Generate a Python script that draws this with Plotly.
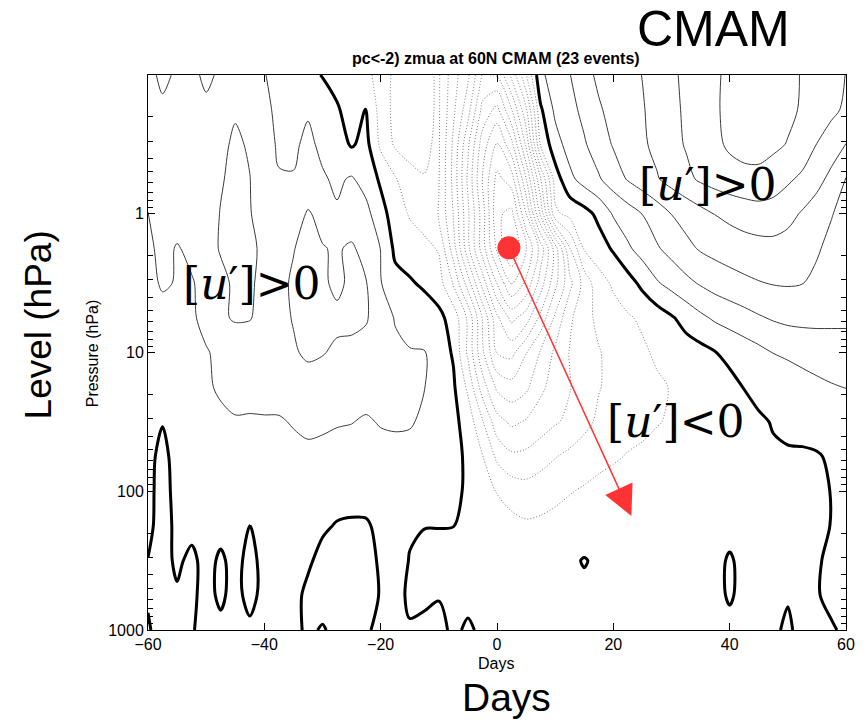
import math
import plotly.graph_objects as go

# ---------------- data ----------------
days = [-60, -57.5, -55, -52.5, -50, -47.5, -45, -42.5, -40, -37.5, -35, -32.5, -30, -27.5,
        -25, -22.5, -20, -17.5, -15, -12.5, -10, -7.5, -5, -2.5, 0, 2.5, 5, 7.5, 10, 12.5,
        15, 17.5, 20, 22.5, 25, 27.5, 30, 32.5, 35, 37.5, 40, 42.5, 45, 47.5, 50, 52.5,
        55, 57.5, 60]

pressure_hpa = [1000, 562.3, 316.2, 177.8, 100, 56.23, 31.62, 17.78, 10, 5.623, 3.162,
                1.778, 1, 0.5623, 0.3162, 0.1778, 0.1]

# zonal-mean zonal wind anomaly (m/s) at each pressure level, one value per day above
u_1000 = [0.05, -0.2, -0.15, -0.05, 0.2, 0.2, 0.25, 0.2, 0.25, 0.25, 0.15, -0.1, 0.05, -0.15, -0.1,
          -0.05, 0.1, 0.15, 0.05, 0.12, 0.15, -0.1,
          0.08, -0.1, -0.12, -0.15, -0.15, -0.15, -0.15, -0.12, -0.12, -0.12, -0.1, -0.1, -0.1,
          -0.1, -0.1, -0.1, -0.1, -0.1, -0.1, -0.1, -0.1, -0.1, 0.1, -0.2, -0.1, -0.03, 0.05]
u_562 = [-0.05, -0.2, -0.1, -0.15, 0.25, -0.15, 0.3, -0.3, 0.3, 0.3, 0.2, -0.15, -0.25, -0.35, -0.35,
         -0.3, 0.05, 0.2, -0.1, -0.1, -0.03, -0.15,
         -0.15, -0.2, -0.25, -0.28, -0.3, -0.3, -0.28, -0.22, -0.2, -0.2, -0.18, -0.16, -0.14,
         -0.13, -0.12, -0.11, -0.1, -0.1, 0.04, -0.1, -0.08, -0.08, -0.05, -0.08, -0.02, 0.07, 0.05]
u_316 = [-0.02, -0.3, 0.15, -0.2, 0.3, -0.15, 0.3, -0.3, 0.3, 0.3, 0.25, 0.1, -0.2, -0.3, -0.3,
         -0.25, 0.1, 0.2, -0.02, -0.2, -0.25, -0.3,
         -0.3, -0.35, -0.4, -0.45, -0.5, -0.5, -0.45, -0.15, 0.05, -0.15, -0.3, -0.28, -0.25,
         -0.22, -0.2, -0.18, -0.15, -0.1, 0.04, -0.1, -0.1, -0.08, -0.08, -0.08, -0.03, 0.06, 0.1]
u_178 = [0.2, -0.35, 0.2, 0.25, 0.3, 0.3, 0.3, -0.02, 0.3, 0.3, 0.25, 0.2, 0.1, -0.05, -0.1,
         -0.1, 0.2, 0.15, 0.05, 0.02, 0.02, 0.01,
         -0.2, -0.35, -0.5, -0.7, -0.85, -0.8, -0.7, -0.6, -0.5, -0.45, -0.4, -0.35, -0.3,
         -0.28, -0.25, -0.22, -0.2, -0.18, -0.12, -0.12, -0.12, -0.1, -0.1, -0.1, -0.08, 0.01, 0.1]
u_100 = [0.25, -0.35, 0.3, 0.35, 0.4, 0.45, 0.45, 0.4, 0.45, 0.45, 0.4, 0.35, 0.3, 0.3, 0.3,
         0.35, 0.45, 0.5, 0.45, 0.4, 0.3, 0.15,
         -0.1, -0.5, -1.05, -1.4, -1.6, -1.45, -1.25, -1.05, -0.9, -0.75, -0.65, -0.55, -0.45,
         -0.38, -0.32, -0.27, -0.23, -0.2, -0.18, -0.16, -0.15, -0.14, -0.13, -0.12, -0.08, 0.01, 0.12]
u_56 = [0.3, -0.3, 0.4, 0.45, 0.55, 0.65, 0.7, 0.7, 0.7, 0.75, 0.8, 0.85, 0.8, 0.75, 0.7,
        0.7, 0.75, 0.75, 0.7, 0.6, 0.45, 0.25,
        -0.15, -0.95, -2.2, -2.8, -2.75, -2.4, -2.05, -1.75, -1.45, -1.25, -1.1, -0.95, -0.85,
        -0.7, -0.55, -0.45, -0.35, -0.28, -0.22, -0.17, -0.13, -0.1, -0.08, -0.08, -0.05, 0.08, 0.2]
u_32 = [0.35, 0.05, 0.45, 0.55, 0.7, 0.85, 0.95, 0.92, 0.95, 0.93, 1.05, 1.15, 1.12, 1.05, 1.02,
        0.92, 1.05, 1.1, 1.08, 0.85, 0.5, 0.25,
        -0.4, -1.9, -3.6, -4.2, -3.9, -3.5, -3.1, -2.8, -2.3, -1.8, -1.5, -1.3, -1.2,
        -1.05, -0.9, -0.7, -0.55, -0.4, -0.3, -0.2, -0.12, 0.05, 0.16, 0.2, 0.28, 0.36, 0.45]
u_18 = [0.4, 0.45, 0.55, 0.7, 0.9, 1.1, 1.2, 1.25, 1.2, 1.3, 1.45, 1.6, 1.55, 1.45, 1.35,
        1.3, 1.25, 1.2, 1.15, 1.02, 0.6, 0.15,
        -1.2, -3.5, -5.2, -5.6, -5.2, -4.2, -3.6, -3.05, -2.5, -2.05, -1.75, -1.5, -1.35,
        -1.15, -0.95, -0.75, -0.55, -0.4, -0.25, 0.02, 0.25, 0.42, 0.58, 0.72, 0.84, 0.94, 1.02]
u_10 = [0.5, 0.55, 0.65, 0.8, 0.95, 1.15, 1.35, 1.45, 1.5, 1.6, 1.9, 2.15, 2.05, 1.85, 1.75,
        1.6, 1.35, 1.15, 1.05, 1.05, 0.5, -0.1,
        -2.2, -4.8, -7.05, -7.3, -6.05, -4.9, -3.8, -2.95, -2.4, -2.05, -1.75, -1.45, -1.15,
        -0.85, -0.6, -0.45, -0.3, -0.03, 0.22, 0.48, 0.74, 1.02, 1.12, 1.23, 1.33, 1.44, 1.55]
u_5p6 = [0.6, 0.7, 0.8, 0.9, 1.2, 1.85, 2.1, 2.05, 1.7, 1.75, 2.05, 2.3, 2.3, 2.2, 2.25,
         2.1, 1.4, 0.95, 0.7, 0.5, 0.25,
         -0.4, -2.2, -5.05, -7.8, -9.3, -8.5, -6.7, -4.8, -3.2, -2.3, -1.8, -1.4, -1.1, -0.85,
         -0.5, -0.1, 0.35, 0.8, 1.15, 1.4, 1.65, 1.9, 2.1, 2.25, 2.3, 2.3, 2.25, 2.2]
u_3p2 = [0.75, 1.1, 0.95, 0.95, 1.2, 1.7, 2.2, 2.15, 1.7, 1.7, 2.15, 2.4, 2.15, 1.8, 2.2,
         2.05, 1.05, 0.3, 0.1,
         -0.15, -0.55, -2.1, -4.5, -7.4, -10.05, -12.05, -10.8, -8.5, -6.3, -4.3, -2.6, -1.4,
         -0.85, -0.4, 0.25,
         0.9, 1.33, 1.75, 2.1, 2.4, 2.62, 2.8, 2.95, 3.05, 3.08, 3.02, 2.8, 2.55, 2.3]
u_1p8 = [0.85, 1.2, 0.95, 1.15, 1.5, 2.1, 2.5, 2.2, 1.8, 1.6, 1.95, 2.4, 2.05, 1.9, 2.15,
         1.6, 0.98,
         -0.2, -0.45, -0.7, -1.1, -3.5, -6.7, -9.5, -12.2, -14.05, -12.05, -9.6, -6.5, -3.05,
         -0.9, -0.45, 0.12,
         0.85, 1.4, 1.9, 2.33, 2.75, 3.1, 3.3, 3.45, 3.58, 3.65, 3.7, 3.6, 3.4, 3.1, 2.75, 2.45]
u_1 = [0.98, 1.2, 1.3, 1.35, 1.45, 2.05, 2.4, 2.05, 1.6, 1.4, 1.5, 2.1, 1.7, 1.1, 1.35,
       1.3, 0.35,
       -0.45, -1.1, -1.5, -2.05, -4.05, -6.8, -9.5, -12.8, -13.3, -10.05, -5.8, -1.2, -0.7,
       -0.35, 0.25,
       1.1, 1.55, 2.02, 2.5, 3.02, 3.36, 3.7, 4.03, 4.25, 4.45, 4.6, 4.55, 4.3, 3.9, 3.45, 3.05, 2.65]
u_0p56 = [1.4, 1.45, 1.45, 1.5, 1.55, 1.9, 2.3, 2.02, 1.4, 1.05, 1.05, 1.3, 1.1, 0.85, 1.1,
          0.6, -0.15,
          -0.9, -1.7, -1.98, -1.95, -4.3, -7.2, -10.05, -12.3, -11.5, -8.05, -4.05, -0.5, 0.75,
          1.4, 1.9, 2.5, 3.08, 3.5, 3.92, 4.35, 4.75, 5.15, 5.4, 5.6, 5.7, 5.7, 5.5, 5.15, 4.8,
          4.35, 3.7, 2.95]
u_0p32 = [1.45, 1.6, 1.5, 1.5, 1.6, 1.8, 2.15, 1.9, 1.3, 0.9, 0.85, 1.2, 0.8, 0.45, -0.1,
          0.3,
          -1.2, -2.15, -2.35, -2.1, -1.9, -4.2, -6.8, -9.5, -11.05, -9.3, -5.8, -0.9, 0.6,
          1.4, 1.9, 2.5, 3.08, 3.46, 3.85, 4.25, 4.67, 5.08, 5.45, 5.8, 6.15, 6.35, 6.4, 6.2,
          5.95, 5.6, 4.98, 4.55, 3.98]
u_0p18 = [1.5, 1.75, 1.6, 1.55, 1.75, 1.7, 1.9, 1.75, 1.1, 0.9, 0.8, 0.9, 0.6, 0.1, -0.4,
          0.05, -1.4, -2.3, -2.5, -2.2, -1.9, -3.8, -5.6, -8.3, -9.3, -7.05, -4.2, -0.15, 1.2,
          1.7, 2.25, 2.9, 3.27, 3.6, 3.93, 4.33, 4.75, 5.15, 5.55, 5.9, 6.2, 6.45, 6.6, 6.5,
          6.2, 5.9, 5.55, 5.2, 4.85]
u_0p1 = [1.6, 2.3, 1.8, 1.7, 2.25, 1.8, 1.6, 1.4, 1.02, 0.85, 0.6, 0.3, -0.05,
         -0.35, -0.6, -0.8, -1.3, -2.3, -2.45, -2.2, -1.9, -3.6, -4.8, -7.1, -6.9, -4.8, -2.05, 0.8,
         1.46, 1.96, 2.7, 3.17, 3.44, 3.72, 4.02, 4.42, 4.83, 5.2, 5.55, 5.9, 6.15, 6.35, 6.48,
         6.45, 6.2, 5.95, 5.6, 5.3, 4.98]

zmua = [u_1000, u_562, u_316, u_178, u_100, u_56, u_32, u_18, u_10, u_5p6, u_3p2, u_1p8,
        u_1, u_0p56, u_0p32, u_0p18, u_0p1]

x_ticks = [-60, -40, -20, 0, 20, 40, 60]
y_ticks = [1, 10, 100, 1000]
y_ticktext = ["1", "10", "100", "1000"]
y_minor = [0.2, 0.3, 0.4, 0.5, 0.6, 0.7, 0.8, 0.9, 2, 3, 4, 5, 6, 7, 8, 9,
           20, 30, 40, 50, 60, 70, 80, 90, 200, 300, 400, 500, 600, 700, 800, 900]

# onset marker and downward-propagation arrow (day, hPa)
dot_day, dot_p = 2.05, 1.76
arrow_day, arrow_p = 23.1, 150.7

# ---------------- figure ----------------
fig = go.Figure()
common = dict(x=days, y=pressure_hpa, z=zmua, showscale=False, hoverinfo="skip", autocontour=False)

fig.add_trace(go.Contour(**common,
                         contours=dict(start=-20, end=-1, size=1, coloring="none"),
                         line=dict(color="#7a7a7a", width=1, dash="1px,2px", smoothing=0.9)))
fig.add_trace(go.Contour(**common,
                         contours=dict(start=1, end=20, size=1, coloring="none"),
                         line=dict(color="#3c3c3c", width=1, smoothing=0.9)))
fig.add_trace(go.Contour(**common,
                         contours=dict(start=0, end=0, size=1, coloring="none"),
                         line=dict(color="black", width=3, smoothing=0.9)))

fig.add_trace(go.Scatter(x=[dot_day], y=[dot_p], mode="markers", hoverinfo="skip",
                         marker=dict(size=23, color="#ff3333", line=dict(width=0)),
                         showlegend=False))

SANS = "Liberation Sans, Arial, sans-serif"
SERIF = "DejaVu Serif, serif"


def label(x, y, text, size, family=SANS, ref="paper", angle=0):
    return dict(x=x, y=y, xref=ref, yref=("y" if ref == "x" else ref), showarrow=False,
                text=text, textangle=angle, xanchor="center", yanchor="middle",
                font=dict(family=family, size=size, color="black"))


ann = []
ann.append(dict(x=arrow_day, y=math.log10(arrow_p), ax=dot_day, ay=math.log10(dot_p),
                xref="x", yref="y", axref="x", ayref="y", text="", showarrow=True,
                arrowhead=2, arrowsize=4, arrowwidth=1.5, arrowcolor="#ff3333"))
ann.append(label(-42.1, 0.50, "[<i>u</i>′]&gt;0", 44, SERIF, ref="x"))
ann.append(label(36.3, -0.21, "[<i>u</i>′]&gt;0", 44, SERIF, ref="x"))
ann.append(label(30.8, 1.50, "[<i>u</i>′]&lt;0", 44, SERIF, ref="x"))

ann.append(label(0.81, 1.0835, "CMAM", 50))
ann.append(label(0.498, 1.0306, "<b>pc&lt;-2) zmua at 60N CMAM (23 events)</b>", 16))
ann.append(label(0.498, -0.0595, "Days", 16))
ann.append(label(0.5136, -0.1225, "Days", 39))
ann.append(label(-0.157, 0.5495, "Level (hPa)", 37, angle=-90))
ann.append(label(-0.0799, 0.499, "Pressure (hPa)", 16, angle=-90))

fig.update_layout(
    width=867, height=724,
    margin=dict(l=148, r=18, t=75, b=94),
    paper_bgcolor="white", plot_bgcolor="white",
    showlegend=False,
    font=dict(family=SANS, size=16, color="black"),
    annotations=ann,
    xaxis=dict(range=[-60, 60], tickvals=x_ticks, ticks="inside", ticklen=7, tickcolor="black",
               showline=True, linecolor="black", linewidth=1, mirror="ticks",
               showgrid=False, zeroline=False, tickfont=dict(size=16)),
    yaxis=dict(type="log", range=[3, -1], tickvals=y_ticks, ticktext=y_ticktext,
               ticks="inside", ticklen=7, tickcolor="black",
               minor=dict(tickvals=y_minor, ticks="inside", ticklen=5, tickcolor="black"),
               showline=True, linecolor="black", linewidth=1, mirror="ticks",
               showgrid=False, zeroline=False, tickfont=dict(size=16)),
)

fig.write_html("out.html")
